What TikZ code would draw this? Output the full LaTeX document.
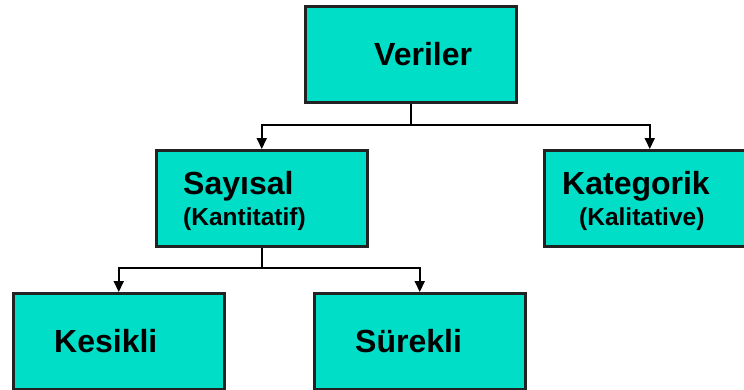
\documentclass[tikz,border=0pt]{standalone}
\usepackage{fontspec}
\setmainfont{Liberation Sans}
\usetikzlibrary{arrows.meta}
\definecolor{boxfill}{RGB}{0,222,200}
\definecolor{boxline}{RGB}{34,34,34}
\begin{document}
\begin{tikzpicture}[x=1pt,y=-1pt,
 box/.style={draw=boxline,line width=2.5pt,fill=boxfill,minimum width=211pt,minimum height=96pt,inner sep=0pt,anchor=north west},
 big/.style={font=\fontsize{32}{32}\selectfont\bfseries,inner sep=0pt,anchor=base west},
 small/.style={font=\fontsize{24.5}{24.5}\selectfont\bfseries,inner sep=0pt,anchor=base west},
 conn/.style={line width=2pt,draw=black},
 arr/.style={conn,-{Triangle[length=11pt,width=10pt]}}]
\useasboundingbox (0,0) rectangle (744,389);
\node[box] (ver) at (304,5) {};
\node[box] (say) at (155,149) {};
\node[box] (kat) at (543,149) {};
\node[box] (kes) at (12,292) {};
\node[box] (sur) at (313,292) {};
\node[big] (tver) at (374,65) {Veriler};
\node[big] (tsay) at (183,194) {Sayısal};
\node[small] (tkan) at (183,225) {(Kantitatif)};
\node[big] (tkat) at (562,194) {Kategorik};
\node[small] (tkal) at (579,225) {(Kalitative)};
\node[big] (tkes) at (54,352) {Kesikli};
\node[big] (tsur) at (355,352) {Sürekli};
\coordinate (j1) at (ver.south |- 0,125);
\draw[conn] (ver.south) -- (j1);
\draw[arr] (j1) -| (say.north);
\draw[arr] (j1) -| (kat.north);
\coordinate (j2) at (say.south |- 0,268);
\draw[conn] (say.south) -- (j2);
\draw[arr] (j2) -| (kes.north);
\draw[arr] (j2) -| (sur.north);
\end{tikzpicture}
\end{document}
